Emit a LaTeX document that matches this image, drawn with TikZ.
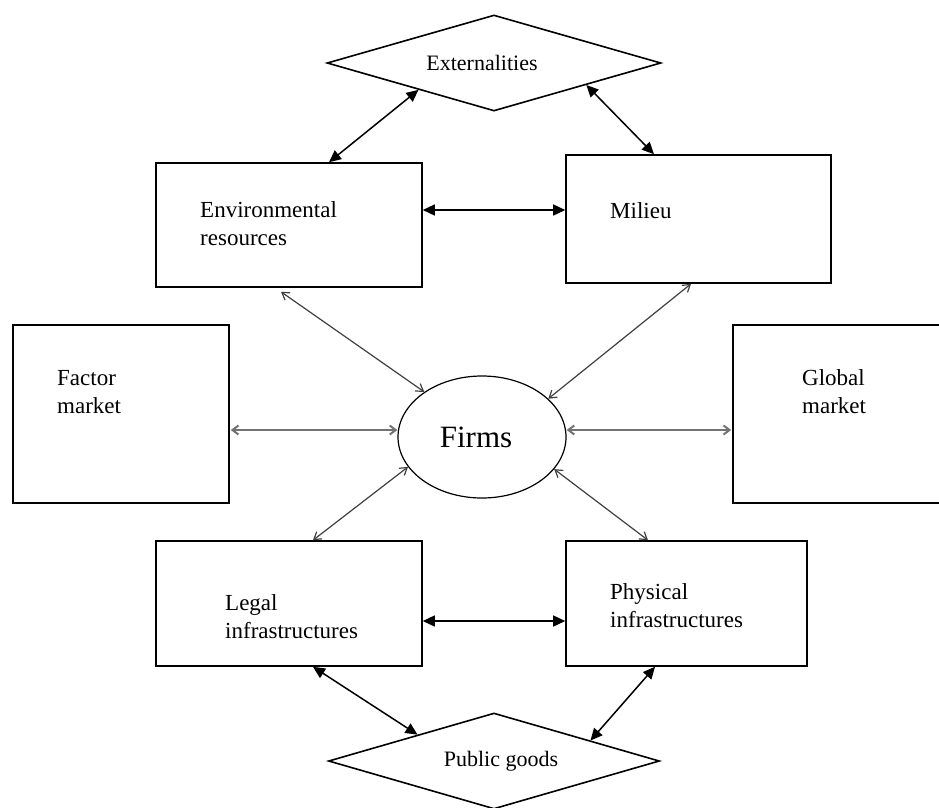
\documentclass[tikz,border=0pt]{standalone}
\usepackage{fontspec}
\setmainfont{Liberation Serif}
\usetikzlibrary{shapes.geometric,arrows.meta,calc}

\tikzset{
  box/.style={draw=black, line width=1.6pt, rectangle, inner sep=0pt},
  decision/.style={draw=black, line width=1.6pt, diamond, inner sep=0pt},
  lbl/.style={font=\fontsize{23}{28}\selectfont, align=left, inner sep=0pt, anchor=west},
  boldlink/.style={line width=1.5pt, {Triangle[length=12pt,width=11pt]}-{Triangle[length=12pt,width=11pt]}},
  thinlink/.style={draw=black!75, line width=1.2pt, {Straight Barb[length=7pt,width=9pt]}-{Straight Barb[length=7pt,width=9pt]}},
  flatlink/.style={draw=black!55, line width=2pt, {Straight Barb[length=6pt,width=9pt]}-{Straight Barb[length=6pt,width=9pt]}}
}

\begin{document}
\begin{tikzpicture}[x=1pt, y=-1pt]
\useasboundingbox (0,0) rectangle (939,807);
\clip (0,0) rectangle (939,807);
\fill[white] (0,0) rectangle (939,807);

% boxes
\node[box, minimum width=266pt, minimum height=124pt] (env) at (289,225) {};
\node[box, minimum width=265pt, minimum height=128pt] (mil) at (698.5,219) {};
\node[box, minimum width=216pt, minimum height=178pt] (fac) at (121,414) {};
\node[box, minimum width=217pt, minimum height=178pt] (glo) at (841.5,414) {};
\node[box, minimum width=266pt, minimum height=125pt] (leg) at (289,603.5) {};
\node[box, minimum width=241pt, minimum height=125pt] (phy) at (686.5,603.5) {};

% central firm node
\node[draw=black, line width=1.2pt, ellipse, minimum width=168pt, minimum height=122pt, inner sep=0pt,
      font=\fontsize{31}{36}\selectfont] (firms) at (482,437) {\hspace*{-12pt}Firms};

% diamonds
\node[decision, minimum width=334pt, minimum height=96pt] (ext) at (494,63) {};
\node[decision, minimum width=331pt, minimum height=96pt] (pub) at (494,761) {};

% texts
\node[lbl] (envtxt) at (200,224) {Environmental\\resources};
\node[lbl] (miltxt) at (610,211) {Milieu};
\node[lbl] (factxt) at (57,392) {Factor\\market};
\node[lbl] (glotxt) at (802,392) {Global\\market};
\node[lbl] (legtxt) at (225,617) {Legal\\infrastructures};
\node[lbl] (phytxt) at (610,606) {Physical\\infrastructures};
\node[font=\fontsize{22}{26}\selectfont, inner sep=0pt] (exttxt) at (482,63) {Externalities};
\node[font=\fontsize{22}{26}\selectfont, inner sep=0pt] (pubtxt) at (501,761) {Public goods};

% links between the outer boxes and the diamonds
\draw[boldlink] ([yshift=15pt]env.east) -- ([yshift=15pt]env.east -| mil.west);
\draw[boldlink] ([yshift=-17.5pt]leg.east) -- ([yshift=-17.5pt]leg.east -| phy.west);
\draw[boldlink] ([xshift=40pt]env.north) -- ($(ext.west)!0.55!(ext.south)$);
\draw[boldlink] ([xshift=-44.5pt]mil.north) -- ($(ext.south)!0.55!(ext.east)$);
\draw[boldlink] ([xshift=24pt]leg.south) -- ($(pub.west)!0.54!(pub.north)$);
\draw[boldlink] ([xshift=-31.5pt]phy.south) -- ($(pub.north)!0.58!(pub.east)$);

% links to the firms
\draw[thinlink] ([xshift=-8pt, yshift=-4pt]env.south) -- (firms.142);
\draw[thinlink] ([xshift=-7.5pt]mil.south) -- (firms.30);
\draw[thinlink] ([xshift=24pt]leg.north) -- (firms.202);
\draw[thinlink] ([xshift=-38.5pt]phy.north) -- (firms.336);
\draw[flatlink] ([xshift=1pt, yshift=-16pt]fac.east) -- ([yshift=-16pt]fac.east -| firms.west);
\draw[flatlink] ([xshift=-1pt, yshift=-16pt]glo.west) -- ([yshift=-16pt]glo.west -| firms.east);
\end{tikzpicture}
\end{document}
